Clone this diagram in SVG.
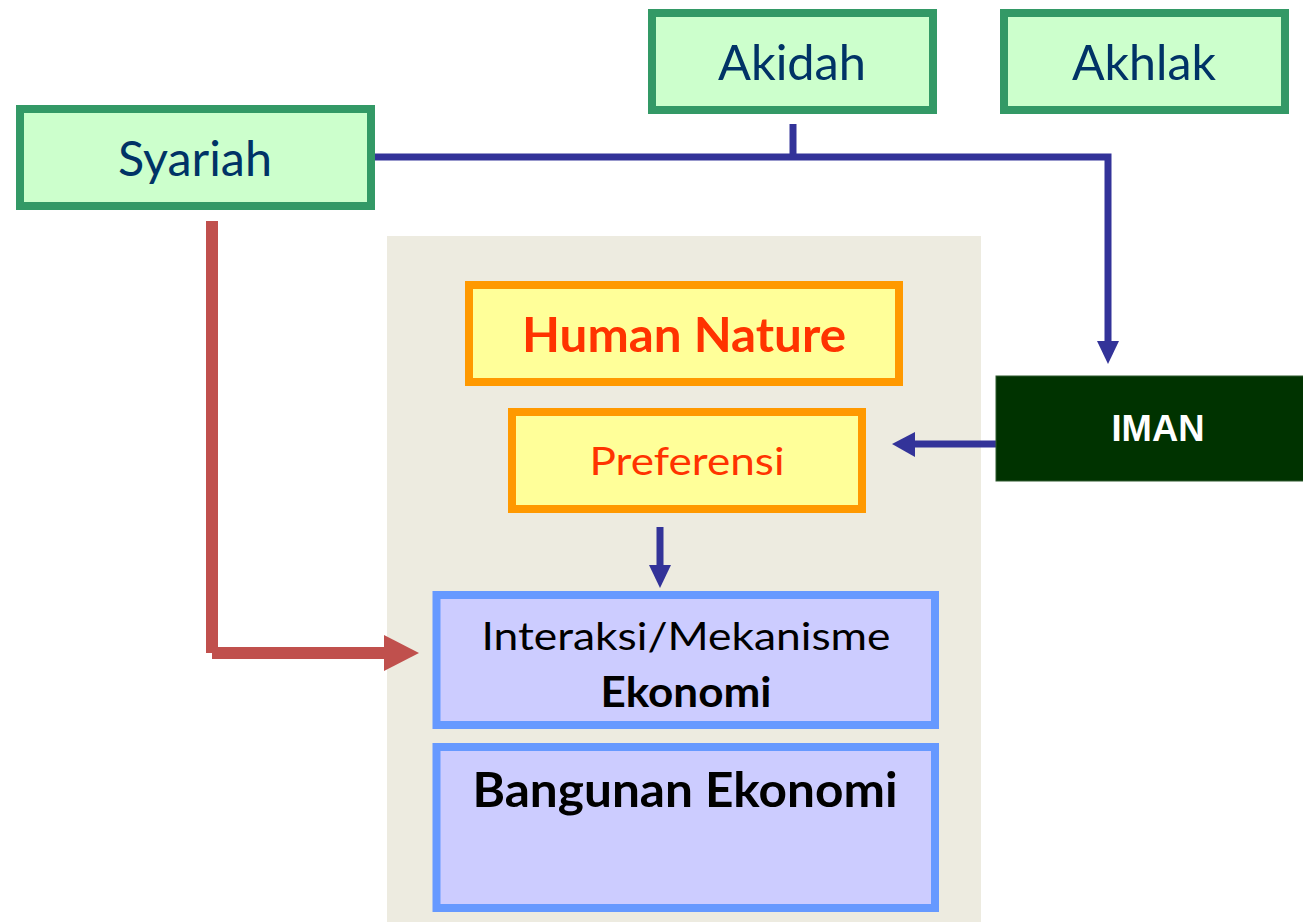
<svg xmlns="http://www.w3.org/2000/svg" width="1303" height="922" viewBox="0 0 1303 922">
  <style>
    .green rect { fill: #CCFFCC; stroke: #339966; stroke-width: 8; }
    .green text { font-family: Lato, "Open Sans", sans-serif; fill: #003366; text-anchor: middle; }
    .yellow rect { fill: #FFFF99; stroke: #FF9900; stroke-width: 8; }
    .yellow text { font-family: Lato, "Open Sans", sans-serif; fill: #FF3300; text-anchor: middle; }
    .violet rect { fill: #CCCCFF; stroke: #6699FF; stroke-width: 8; }
    .violet text { font-family: Lato, "Open Sans", sans-serif; fill: #000000; text-anchor: middle; }
    .bold { font-weight: bold; }
    .blue-line { fill: none; stroke: #333399; stroke-width: 7; }
    .blue-head { fill: #333399; }
    .red { fill: #C0504D; }
  </style>

  <!-- shaded panel behind the economic core -->
  <rect id="panel" x="387" y="236" width="594" height="686" fill="#EDEBE0"/>

  <!-- connectors -->
  <g id="connectors">
    <!-- Syariah / Akidah to IMAN -->
    <path class="blue-line" d="M375 157 H1108 V342"/>
    <path class="blue-line" d="M793 124 V157"/>
    <polygon class="blue-head" points="1097,341 1119,341 1108,364"/>
    <!-- IMAN to Preferensi -->
    <path class="blue-line" d="M996 444 H912"/>
    <polygon class="blue-head" points="915,432 915,457 892,444"/>
    <!-- Preferensi to Interaksi -->
    <path class="blue-line" d="M660 527 V566"/>
    <polygon class="blue-head" points="649,565 671,565 660,588"/>
    <!-- Syariah to Interaksi -->
    <rect class="red" x="206" y="221" width="12" height="432"/>
    <rect class="red" x="212" y="647" width="174" height="12"/>
    <polygon class="red" points="384,635 384,671 419,653"/>
  </g>

  <g id="syariah" class="green">
    <rect x="20" y="109" width="351" height="97"/>
    <text x="195" y="176" font-size="47.5" textLength="154" lengthAdjust="spacingAndGlyphs">Syariah</text>
  </g>

  <g id="akidah" class="green">
    <rect x="652" y="13" width="281" height="97"/>
    <text x="792" y="80" font-size="48.5" textLength="148" lengthAdjust="spacingAndGlyphs">Akidah</text>
  </g>

  <g id="akhlak" class="green">
    <rect x="1004" y="13" width="281" height="97"/>
    <text x="1144" y="80" font-size="48.5" textLength="144" lengthAdjust="spacingAndGlyphs">Akhlak</text>
  </g>

  <g id="human-nature" class="yellow">
    <rect x="469" y="285" width="430" height="97"/>
    <text class="bold" x="684" y="352" font-size="47.5" textLength="324" lengthAdjust="spacingAndGlyphs">Human Nature</text>
  </g>

  <g id="preferensi" class="yellow">
    <rect x="512" y="412" width="350" height="97"/>
    <text x="687" y="475" font-size="39.5" textLength="195" lengthAdjust="spacingAndGlyphs">Preferensi</text>
  </g>

  <g id="iman">
    <rect x="996" y="376" width="310" height="105" fill="#003300" stroke="#2E5A2E" stroke-width="1"/>
    <text x="1158" y="441" font-family="'Liberation Sans', Arial, sans-serif" font-weight="bold" font-size="36" fill="#FFFFFF" text-anchor="middle" textLength="93" lengthAdjust="spacingAndGlyphs">IMAN</text>
  </g>

  <g id="interaksi" class="violet">
    <rect x="436.5" y="595" width="498.5" height="130"/>
    <text x="686" y="650" font-size="39.5" textLength="409" lengthAdjust="spacingAndGlyphs">Interaksi/Mekanisme</text>
    <text class="bold" x="686" y="707" font-size="42" textLength="171" lengthAdjust="spacingAndGlyphs">Ekonomi</text>
  </g>

  <g id="bangunan" class="violet">
    <rect x="436.5" y="747" width="498.5" height="161"/>
    <text class="bold" x="685" y="807" font-size="47.5" textLength="425" lengthAdjust="spacingAndGlyphs">Bangunan Ekonomi</text>
  </g>
</svg>
